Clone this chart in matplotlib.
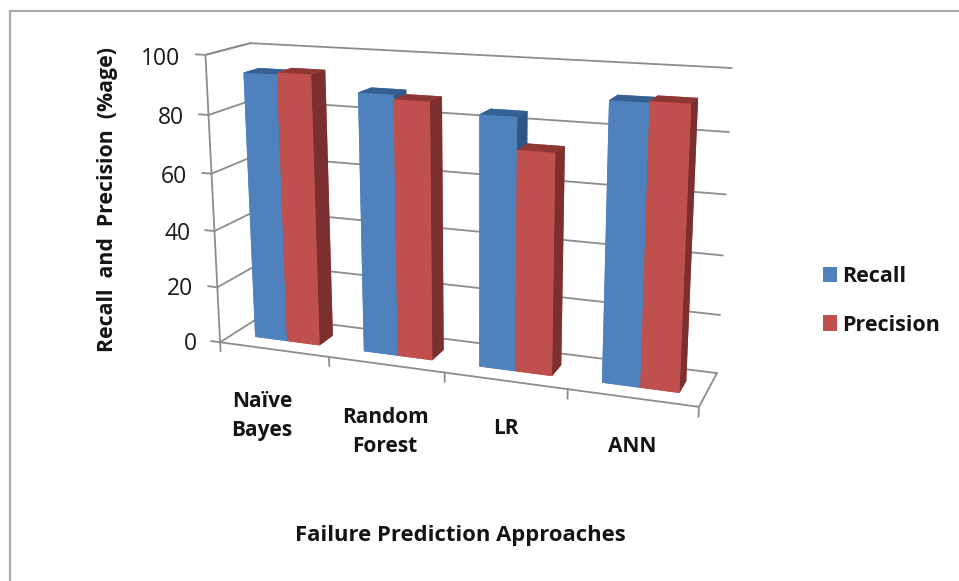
import numpy as np
import matplotlib
matplotlib.use("Agg")
import matplotlib.pyplot as plt
from matplotlib.lines import Line2D
from matplotlib.patches import Patch

categories = ["Naïve\nBayes", "Random\nForest", "LR", "ANN"]
recall = [93.3, 89, 84.5, 91.5]
precision = [94, 87.5, 74, 92]
yticks = [0, 20, 40, 60, 80, 100]
series_names = ["Recall", "Precision"]
cat_label_px = [(262, 416), (385, 432), (506, 429), (632, 446)]

W, H = 959, 581
plt.rcParams["font.family"] = "Open Sans"
fig = plt.figure(figsize=(W / 100, H / 100), dpi=100, facecolor="white")
ax = fig.add_axes([0, (H - W) / 2 / H, 1, W / H], projection="3d", computed_zorder=False)
ax.set_axis_off()
ax.patch.set_alpha(0)

# Excel-style perspective: camera fitted to the chart box corners (world -> pixel)
world = np.array([[0, 0, 0], [4, 0, 0], [4, 1, 0], [0, 1, 0],
                  [0, 0, 100], [0, 1, 100], [4, 1, 100], [4, 1, 80], [0, 0, 80]], float)
pix = np.array([[220, 342], [699, 407], [717, 373], [262, 316],
                [206, 55], [250, 43], [732, 68], [728, 132], [208, 115]], float)
Wn = world / np.array([4, 1, 100])
rows = []
for (X, Y, Z), (u, v) in zip(Wn, pix):
    p = [X, Y, Z, 1]
    rows.append(list(p) + [0, 0, 0, 0] + [-u / 500 * c for c in p])
    rows.append([0, 0, 0, 0] + list(p) + [-v / 500 * c for c in p])
_, _, Vt = np.linalg.svd(np.array(rows))
h = Vt[-1]
T = np.diag([1 / 4, 1, 1 / 100, 1])
P = np.vstack([h[:4] * 500 @ T, h[4:8] * 500 @ T, h[8:] @ T])
P = P / (P[2] @ np.array([2, .5, 50, 1]))
to_view = ax.transData.inverted().get_matrix() @ np.array([[1, 0, 0], [0, -1, H], [0, 0, 1]], float)
Q = to_view @ P
M = np.vstack([Q[0], Q[1], [-0.3, 1.0, -0.005, -3.0], Q[2]])
ax.get_proj = lambda: M


def pxt(x, y, s, **kw):
    fig.text(x / W, 1 - y / H, s, **kw)


grid = "#8C8C8C"
LW = 1.3
for v in yticks:
    ax.plot([0, 0, 4], [0, 1, 1], [v, v, v], color=grid, lw=LW, zorder=1)
    ax.plot([-0.085, 0], [0, 0], [v, v], color=grid, lw=LW, zorder=1)
    q = P @ np.array([-0.225, 0, v, 1])
    pxt(q[0] / q[2], q[1] / q[2] + 5, str(v), ha="right", va="center", fontsize=16.5, color="#1A1A1A")
ax.plot([0, 0], [0, 0], [0, 100], color=grid, lw=LW, zorder=1)
ax.plot([0, 0], [0, 1], [100, 100], color=grid, lw=LW, zorder=1)
ax.plot([0, 4, 4], [0, 0, 1], [0, 0, 0], color=grid, lw=LW, zorder=1)
for i in range(5):
    ax.plot([i, i], [0, 0], [0, -3.2], color=grid, lw=LW, zorder=1)

blue = "#4F81BD"
blue_dark = "#376092"
blue_side = "#2F5688"
red = "#C0504D"
red_dark = "#8E3836"
red_side = "#7B2F2E"
bw, y0, y1 = 0.30, 0.30, 0.65
offs = 0.21
z = 3
for i, (r, p) in enumerate(zip(recall, precision)):
    ax.bar3d(i + offs, y0, 0, bw, y1 - y0, r, shade=False, zorder=z,
             color=[blue, blue_dark, blue, blue, blue, blue_side], edgecolor="none")
    ax.bar3d(i + offs + bw, y0, 0, bw, y1 - y0, p, shade=False, zorder=z + 1,
             color=[red, red_dark, red, red, red, red_side], edgecolor="none")
    z += 2

TXT = "#141414"
for (x, y), c in zip(cat_label_px, categories):
    pxt(x, y, c, ha="center", va="center", fontsize=15, fontweight="bold", color=TXT, linespacing=1.5)
pxt(460, 536, "Failure Prediction Approaches", ha="center", va="center", fontsize=15.8, fontweight="bold", color=TXT)
pxt(108, 200, "Recall  and  Precision  (%age)", ha="center", va="center", rotation=90, fontsize=15.3, fontweight="bold", color=TXT)

handles = [Patch(facecolor=blue), Patch(facecolor=red)]
fig.legend(handles, series_names, loc="center left", bbox_to_anchor=(822.5 / W, 1 - 301 / H), frameon=False,
           handlelength=0.68, handleheight=0.75, handletextpad=0.25, labelspacing=1.29,
           prop={"size": 15.5, "weight": "bold"}, labelcolor=TXT, borderpad=0, borderaxespad=0)

border = "#ABABAB"
fig.add_artist(Line2D([10 / W, 10 / W, 1], [0, 1 - 10.5 / H, 1 - 10.5 / H], transform=fig.transFigure, color=border, lw=1.6))

fig.savefig("out.png", dpi=100)
